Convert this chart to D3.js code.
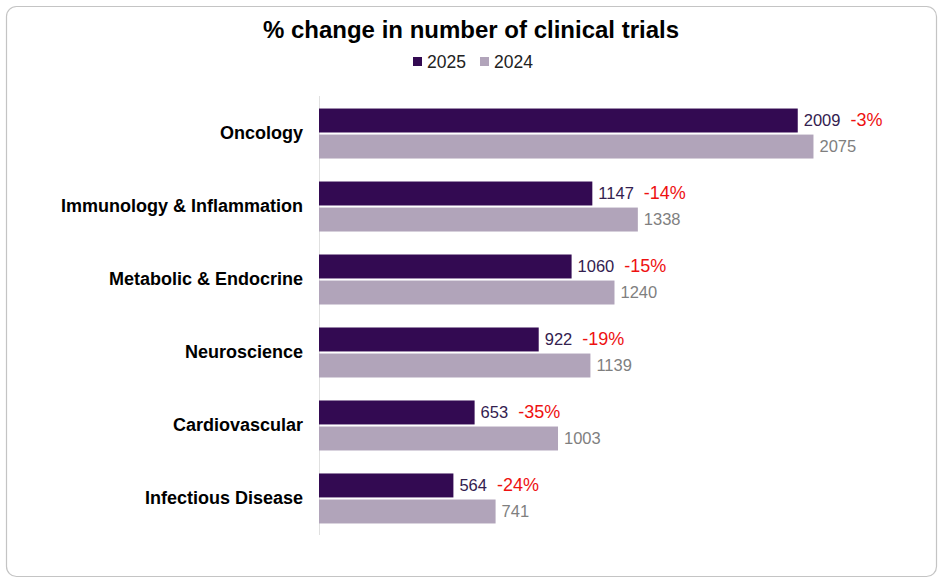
<!DOCTYPE html>
<html><head><meta charset="utf-8">
<script src="https://cdn.jsdelivr.net/npm/d3@7/dist/d3.min.js"></script>
<style>body{margin:0;background:#fff;font-family:"Liberation Sans",Arial,sans-serif;}</style>
</head><body>
<svg id="c" width="943" height="583"></svg>
<script>
const categories = ["Oncology","Immunology & Inflammation","Metabolic & Endocrine","Neuroscience","Cardiovascular","Infectious Disease"];
const values2025 = [2009,1147,1060,922,653,564];
const values2024 = [2075,1338,1240,1139,1003,741];
const pctChange = ["-3%","-14%","-15%","-19%","-35%","-24%"];
const seriesNames = ["2025","2024"];
const colors = ["#330a52","#b1a4ba"];

const svg = d3.select("#c");
svg.append("rect").attr("x",6.5).attr("y",6.5).attr("width",930).attr("height",570)
  .attr("rx",10).attr("fill","#fff").attr("stroke","#c4c4c4").attr("stroke-width",1.2);

svg.append("text").attr("x",471).attr("y",38).attr("text-anchor","middle")
  .attr("font-size",24).attr("font-weight","bold").attr("fill","#000")
  .text("% change in number of clinical trials");

// legend
const lg = [{x:413,name:seriesNames[0],c:colors[0]},{x:480,name:seriesNames[1],c:colors[1]}];
lg.forEach(d=>{
  svg.append("rect").attr("x",d.x).attr("y",57).attr("width",9).attr("height",9).attr("fill",d.c);
  svg.append("text").attr("x",d.x+14).attr("y",68).attr("font-size",17.5).attr("fill","#222").text(d.name);
});

const x = d3.scaleLinear().domain([0,2500]).range([319,319+2500*0.2383]);
const y = d3.scaleBand().domain(categories).range([97,535]).paddingInner(0.315).paddingOuter(0.158);
const sub = d3.scaleBand().domain(seriesNames).range([0,y.bandwidth()]).paddingInner(0.08);

// axis line
svg.append("line").attr("x1",319.5).attr("x2",319.5).attr("y1",96).attr("y2",535).attr("stroke","#e0e0e0").attr("stroke-width",1);

// category labels
svg.selectAll("text.cat").data(categories).join("text").attr("class","cat")
  .attr("x",303).attr("y",d=>y(d)+y.bandwidth()/2-1).attr("dy","0.35em")
  .attr("text-anchor","end").attr("font-size",18).attr("font-weight","bold").attr("fill","#000")
  .text(d=>d);

const rows = categories.map((c,i)=>({c,v25:values2025[i],v24:values2024[i],p:pctChange[i]}));

const g = svg.selectAll("g.row").data(rows).join("g").attr("class","row")
  .attr("transform",d=>`translate(0,${y(d.c)})`);

g.append("rect").attr("x",x(0)).attr("y",sub("2025")).attr("height",sub.bandwidth())
  .attr("width",d=>x(d.v25)-x(0)).attr("fill",colors[0]);
g.append("rect").attr("x",x(0)).attr("y",sub("2024")).attr("height",sub.bandwidth())
  .attr("width",d=>x(d.v24)-x(0)).attr("fill",colors[1]);

const t25 = g.append("text").attr("x",d=>x(d.v25)+6).attr("y",sub("2025")+sub.bandwidth()/2)
  .attr("dy","0.35em").attr("font-size",16.5);
t25.append("tspan").attr("fill","#33214f").text(d=>d.v25);
t25.append("tspan").attr("dx",10).attr("fill","#ee1111").attr("font-size",18).text(d=>d.p);

g.append("text").attr("x",d=>x(d.v24)+6).attr("y",sub("2024")+sub.bandwidth()/2)
  .attr("dy","0.35em").attr("font-size",16.5).attr("fill","#7f7f7f").text(d=>d.v24);
</script>
</body></html>
